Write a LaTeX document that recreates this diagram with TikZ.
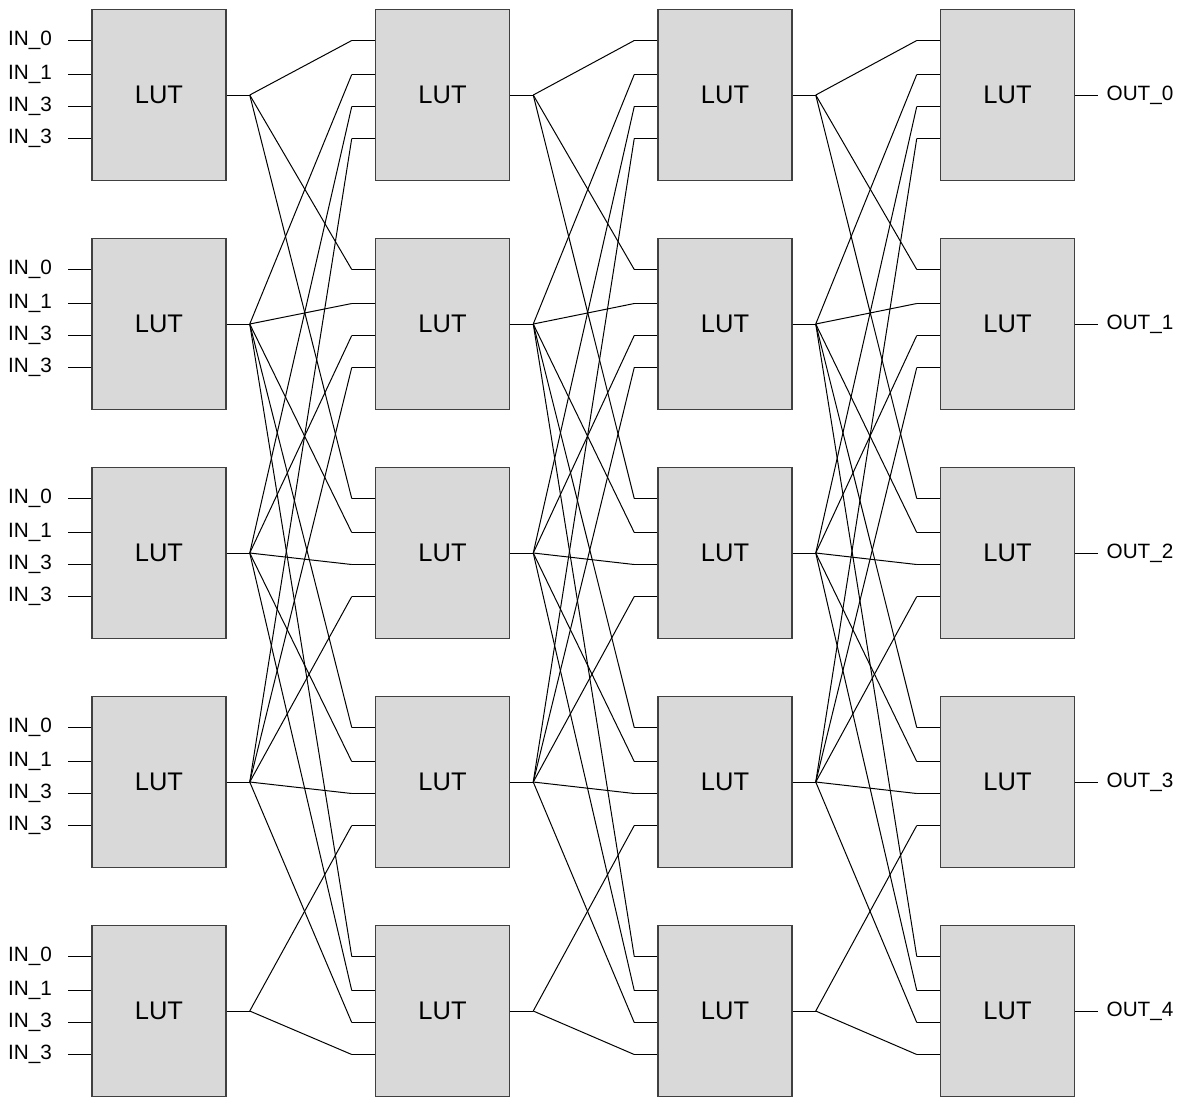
\documentclass[tikz,border=0pt]{standalone}
\usepackage{fontspec}
\setmainfont{Liberation Sans}
\usetikzlibrary{positioning}
\tikzset{
    lut/.style={rectangle, draw=black!75, line width=0.3mm, fill=black!15, minimum width=26.8mm, minimum height=34.2mm, inner sep=0pt, font=\fontsize{14.5}{17}\selectfont},
    wire/.style={line width=0.2mm},
    pinlabel/.style={inner sep=0pt, font=\fontsize{11.8}{14}\selectfont}
}

\begin{document}
\begin{tikzpicture}

\useasboundingbox (0,0) rectangle (237mm,-219.8mm);

% Define LUTs, first column
\node[lut] (a0) at (31.8mm,-19mm) {LUT};
\node[lut] (a1) [below=11.3mm of a0] {LUT};
\node[lut] (a2) [below=11.3mm of a1] {LUT};
\node[lut] (a3) [below=11.3mm of a2] {LUT};
\node[lut] (a4) [below=11.3mm of a3] {LUT};

% Second column
\node[lut] (b0) [right=29.6mm of a0] {LUT};
\node[lut] (b1) [right=29.6mm of a1] {LUT};
\node[lut] (b2) [right=29.6mm of a2] {LUT};
\node[lut] (b3) [right=29.6mm of a3] {LUT};
\node[lut] (b4) [right=29.6mm of a4] {LUT};

% Third column
\node[lut] (c0) [right=29.4mm of b0] {LUT};
\node[lut] (c1) [right=29.4mm of b1] {LUT};
\node[lut] (c2) [right=29.4mm of b2] {LUT};
\node[lut] (c3) [right=29.4mm of b3] {LUT};
\node[lut] (c4) [right=29.4mm of b4] {LUT};

% Fourth column
\node[lut] (d0) [right=29.4mm of c0] {LUT};
\node[lut] (d1) [right=29.4mm of c1] {LUT};
\node[lut] (d2) [right=29.4mm of c2] {LUT};
\node[lut] (d3) [right=29.4mm of c3] {LUT};
\node[lut] (d4) [right=29.4mm of c4] {LUT};

% Input pins of every LUT
\foreach \col in {a,b,c,d} {
    \foreach \row in {0,...,4} {
        \foreach \pin/\dy in {0/10.9mm, 1/4.1mm, 2/-2.3mm, 3/-8.7mm} {
            \draw[wire] ([yshift=\dy]\col\row.west) -- ++(-4.6mm,0) coordinate (\col\row-in\pin);
        }
    }
}

% Outputs end in a fan-out point
\foreach \col in {a,b,c} {
    \foreach \row in {0,...,4} {
        \draw[wire] (\col\row.east) -- ++(4.6mm,0) coordinate (\col\row-fan);
    }
}

% Routing between columns: LUT row takes rows first..first+3
\foreach \src/\dst in {a/b, b/c, c/d} {
    \foreach \row/\first in {0/0, 1/0, 2/0, 3/1, 4/1} {
        \foreach \pin in {0,...,3} {
            \pgfmathtruncatemacro{\from}{\first+\pin}
            \draw[wire] (\src\from-fan) -- (\dst\row-in\pin);
        }
    }
}

% Primary inputs
\foreach \row in {0,...,4} {
    \foreach \pin/\txt in {0/IN\_0, 1/IN\_1, 2/IN\_3, 3/IN\_3} {
        \node[pinlabel, anchor=east] (in\row-\pin) [left=3.2mm of a\row-in\pin] {\txt};
    }
}

% Primary outputs
\foreach \row in {0,...,4} {
    \draw[wire] (d\row.east) -- ++(4.6mm,0) coordinate (d\row-out);
    \node[pinlabel] (out\row) [right=1.6mm of d\row-out] {OUT\_\row};
}

\end{tikzpicture}
\end{document}
